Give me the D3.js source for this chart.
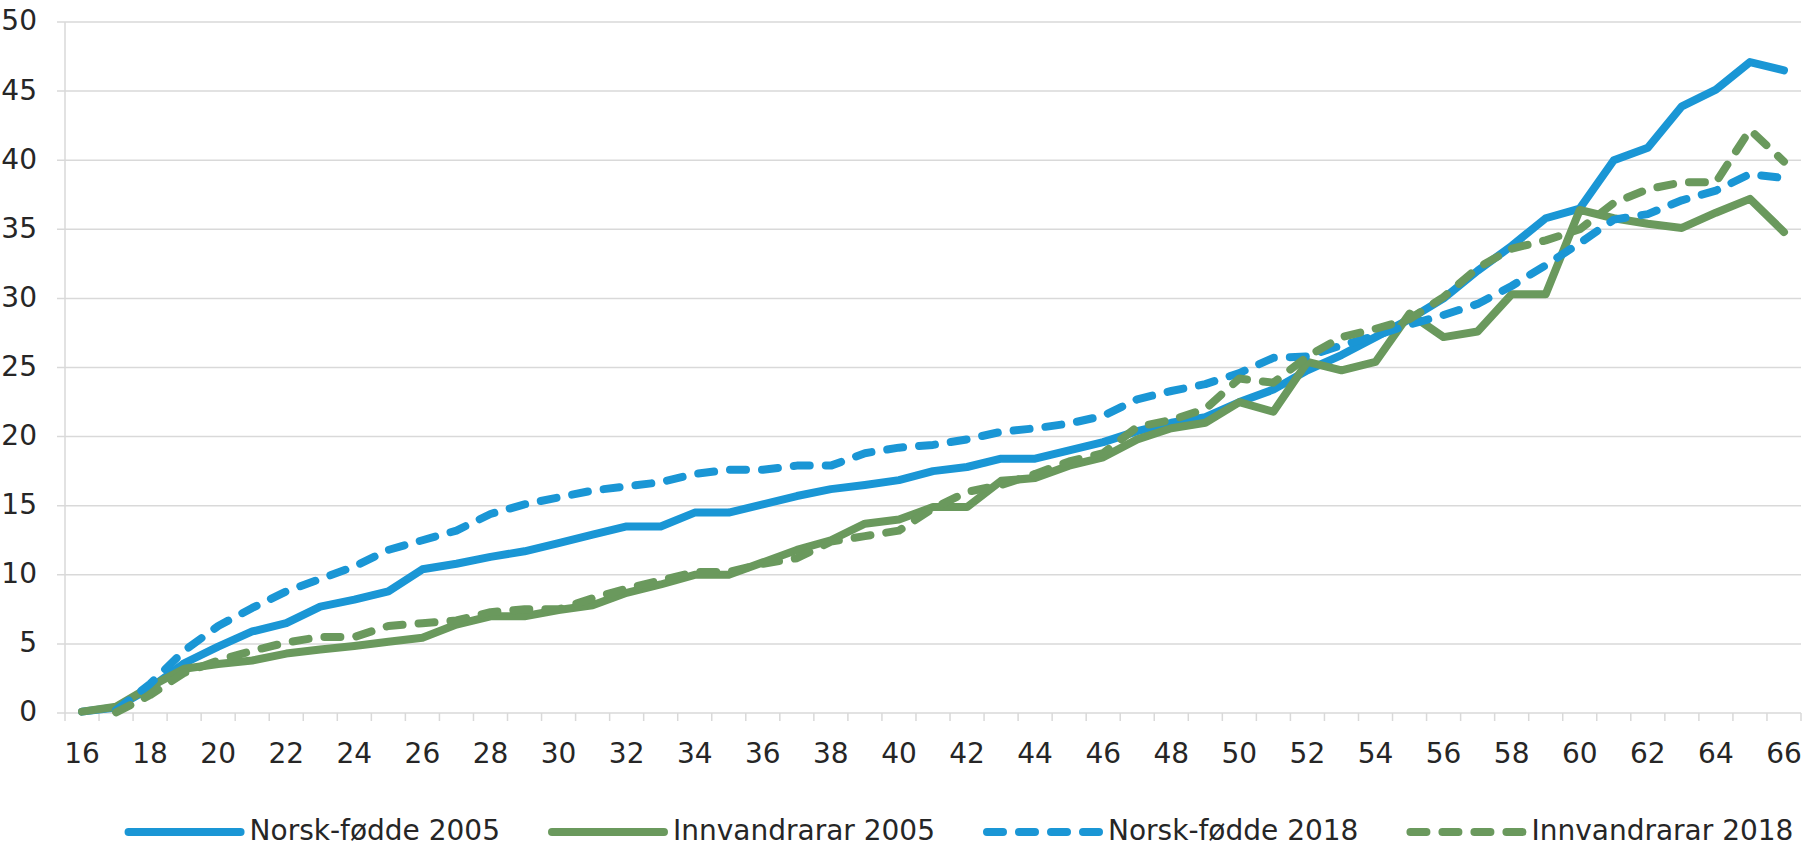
<!DOCTYPE html>
<html>
<head>
    <meta charset="utf-8">
    <title>Norsk-fødde og innvandrarar</title>
    <script src="https://d3js.org/d3.v7.min.js"></script>
    <style>
        html, body { margin: 0; padding: 0; background: #fff; }
        svg text { font-family: "DejaVu Sans", Verdana, sans-serif; fill: #262626; }
    </style>
</head>
<body>
<div id="chart"></div>
<script>
    // ages on the x axis
    const ages = d3.range(16, 67);
    const xTickLabels = ages.filter(a => a % 2 === 0);
    const yTicks = [0, 5, 10, 15, 20, 25, 30, 35, 40, 45, 50];

    const seriesNames = ["Norsk-fødde 2005", "Innvandrarar 2005", "Norsk-fødde 2018", "Innvandrarar 2018"];

    // values from age 16
    const norsk2005 = [0.1, 0.4, 1.8, 3.6, 4.8, 5.9, 6.5, 7.7, 8.2, 8.8,
        10.4, 10.8, 11.3, 11.7, 12.3, 12.9, 13.5, 13.5, 14.5, 14.5,
        15.1, 15.7, 16.2, 16.5, 16.85, 17.5, 17.8, 18.4, 18.4, 19.0,
        19.6, 20.4, 21.0, 21.4, 22.5, 23.4, 24.8, 25.9, 27.2, 28.5,
        30.0, 32.0, 33.8, 35.8, 36.5, 40.0, 40.9, 43.9, 45.1, 47.1, 46.5];

    const innv2005 = [0.1, 0.45, 1.9, 3.2, 3.55, 3.8, 4.3, 4.6, 4.85, 5.15,
        5.45, 6.4, 7.0, 7.0, 7.45, 7.8, 8.7, 9.3, 10.0, 10.0,
        10.9, 11.8, 12.5, 13.7, 14.0, 14.9, 14.9, 16.8, 17.0, 17.9,
        18.5, 19.8, 20.6, 21.0, 22.5, 21.8, 25.4, 24.8, 25.4, 28.9,
        27.2, 27.6, 30.3, 30.3, 36.4, 35.8, 35.4, 35.1, 36.2, 37.2, 34.8];

    // 2018 series have no value at age 16
    const norsk2018 = [null, 0.2, 2.1, 4.5, 6.3, 7.6, 8.8, 9.7, 10.6, 11.8,
        12.5, 13.2, 14.4, 15.1, 15.6, 16.1, 16.4, 16.7, 17.3, 17.6,
        17.6, 17.9, 17.9, 18.8, 19.2, 19.4, 19.8, 20.35, 20.6, 20.95,
        21.5, 22.7, 23.3, 23.8, 24.6, 25.7, 25.8, 26.6, 27.3, 28.1,
        28.8, 29.6, 30.9, 32.4, 34.0, 35.7, 36.1, 37.1, 37.8, 39.0, 38.7];

    const innv2018 = [null, 0.05, 1.3, 2.9, 3.8, 4.5, 5.1, 5.5, 5.5, 6.3,
        6.5, 6.7, 7.3, 7.5, 7.5, 8.3, 9.0, 9.6, 10.2, 10.2,
        10.8, 11.2, 12.4, 12.8, 13.2, 14.8, 16.0, 16.5, 17.3, 18.2,
        18.8, 20.7, 21.2, 22.0, 24.2, 23.9, 25.8, 27.2, 27.8, 28.5,
        30.1, 32.2, 33.6, 34.2, 35.0, 36.9, 37.9, 38.4, 38.4, 42.2, 39.9];

    const blue = "#1a96d5";
    const green = "#6a995d";

    const series = [
        { name: seriesNames[0], values: norsk2005, color: blue, dashed: false },
        { name: seriesNames[1], values: innv2005, color: green, dashed: false },
        { name: seriesNames[2], values: norsk2018, color: blue, dashed: true },
        { name: seriesNames[3], values: innv2018, color: green, dashed: true }
    ];

    const width = 1804, height = 848;
    const margin = { top: 22, right: 3, bottom: 135, left: 65 };
    const lineWidth = 8;
    const dash = "16,16";
    const fontSize = "28px";

    const svg = d3.select("#chart").append("svg")
        .attr("width", width)
        .attr("height", height);

    const x = d3.scaleBand()
        .domain(ages)
        .range([margin.left, width - margin.right])
        .paddingInner(0)
        .paddingOuter(0);

    const y = d3.scaleLinear()
        .domain([0, 50])
        .range([height - margin.bottom, margin.top]);

    const cx = a => x(a) + x.bandwidth() / 2;

    // gridlines
    svg.append("g")
        .selectAll("line")
        .data(yTicks)
        .join("line")
        .attr("x1", margin.left - 8)
        .attr("x2", width - margin.right)
        .attr("y1", d => y(d))
        .attr("y2", d => y(d))
        .attr("stroke", "#d9d9d9")
        .attr("stroke-width", 1.5);

    // y axis line
    svg.append("line")
        .attr("x1", margin.left).attr("x2", margin.left)
        .attr("y1", y(50)).attr("y2", y(0))
        .attr("stroke", "#d9d9d9")
        .attr("stroke-width", 1.5);

    // y labels
    svg.append("g")
        .selectAll("text")
        .data(yTicks)
        .join("text")
        .attr("x", 37)
        .attr("y", d => y(d))
        .attr("dy", "0.3em")
        .attr("text-anchor", "end")
        .style("font-size", fontSize)
        .text(d => d);

    // x ticks at category boundaries
    const bounds = ages.map(a => x(a)).concat([x(ages[ages.length - 1]) + x.bandwidth()]);
    svg.append("g")
        .selectAll("line")
        .data(bounds)
        .join("line")
        .attr("x1", d => d).attr("x2", d => d)
        .attr("y1", y(0)).attr("y2", y(0) + 8)
        .attr("stroke", "#d9d9d9")
        .attr("stroke-width", 1.5);

    svg.append("g")
        .selectAll("text")
        .data(xTickLabels)
        .join("text")
        .attr("x", d => cx(d))
        .attr("y", 763)
        .attr("text-anchor", "middle")
        .style("font-size", fontSize)
        .text(d => d);

    // lines
    const line = d3.line()
        .defined(d => d.v != null)
        .x(d => cx(d.age))
        .y(d => y(d.v));

    svg.append("g")
        .selectAll("path")
        .data(series)
        .join("path")
        .attr("d", s => line(s.values.map((v, i) => ({ age: ages[i], v: v }))))
        .attr("fill", "none")
        .attr("stroke", s => s.color)
        .attr("stroke-width", lineWidth)
        .attr("stroke-linejoin", "round")
        .attr("stroke-linecap", "round")
        .attr("stroke-dasharray", s => s.dashed ? dash : null);

    // legend
    const legend = svg.append("g");
    const symW = 112, symGap = 9, itemGap = 52, legendY = 832;
    const items = legend.selectAll("g")
        .data(series)
        .join("g");

    items.append("line")
        .attr("x1", 0).attr("x2", symW)
        .attr("y1", 0).attr("y2", 0)
        .attr("stroke", s => s.color)
        .attr("stroke-width", lineWidth)
        .attr("stroke-linecap", "round")
        .attr("stroke-dasharray", s => s.dashed ? dash : null);

    items.append("text")
        .attr("x", symW + symGap)
        .attr("y", 0)
        .attr("dy", "0.3em")
        .style("font-size", fontSize)
        .text(s => s.name);

    let pos = 0;
    const offsets = [];
    items.each(function() {
        offsets.push(pos);
        const tw = d3.select(this).select("text").node().getComputedTextLength();
        pos += symW + symGap + tw + itemGap;
    });
    const total = pos - itemGap;
    const start = 961 - total / 2;
    items.attr("transform", (d, i) => `translate(${start + offsets[i]},${legendY})`);
</script>
</body>
</html>
